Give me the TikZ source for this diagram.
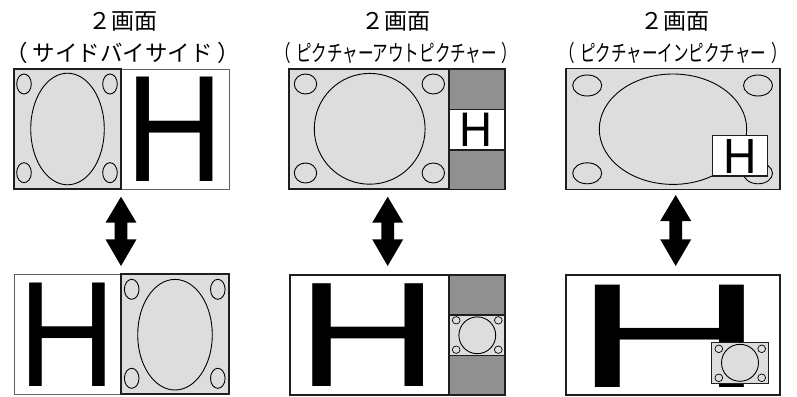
\documentclass[tikz,border=0pt]{standalone}
\usepackage{fontspec}
\usepackage{graphicx}
\newfontfamily\jp{Noto Sans CJK JP}
\newfontfamily\hfont{Liberation Sans}
\definecolor{lg}{HTML}{DDDDDD}
\definecolor{dg}{HTML}{909090}
\definecolor{bd}{HTML}{1E1E1E}
\definecolor{gb}{HTML}{606060}
\newcommand\HG[2]{\resizebox{#1pt}{#2pt}{\hfont H}}
\newcommand\dbar[3]{\fill[black] (#1,#2) -- ({#1+15.5},{#2+26}) -- ({#1+6.3},{#2+26}) -- ({#1+6.3},{#3-26.7}) -- ({#1+15.5},{#3-26.7}) -- (#1,#3) -- ({#1-15.5},{#3-26.7}) -- ({#1-6.3},{#3-26.7}) -- ({#1-6.3},{#2+26}) -- ({#1-15.5},{#2+26}) -- cycle;}
\begin{document}
\begin{tikzpicture}[x=1pt,y=-1pt,
  scr/.style={line width=1.7pt, draw=bd},
  mid/.style={line width=1.2pt, draw=bd},
  gscr/.style={line width=1pt, draw=gb},
  orb/.style={line width=0.9pt, draw=black},
  sorb/.style={line width=0.7pt, draw=black},
  hl/.style={inner sep=0pt, outer sep=0pt},
  ttl/.style={font=\jp\fontsize{23}{26}\selectfont, inner sep=0pt},
  sub/.style={font=\jp\fontsize{22.5}{26}\selectfont, inner sep=0pt}]
\useasboundingbox (0,0) rectangle (797,396);
% ---------- titles
\node[ttl, anchor=base] (t1) at (122.5,29.8) {２画面};
\node[ttl, anchor=base] (t2) at (395.8,29.8) {２画面};
\node[ttl, anchor=base] (t3) at (675,29.8) {２画面};
\node[sub, anchor=base] (s1) at (123,61.5) {（\hspace{5pt}サイドバイサイド\hspace{5pt}）};
\node[sub, anchor=base] (s2) at (396.5,61.5) {\scalebox{0.69}[1]{（\hspace{7pt}ピクチャーアウトピクチャー\hspace{7pt}）}};
\node[sub, anchor=base] (s3) at (673.3,61.5) {\scalebox{0.69}[1]{（\hspace{7pt}ピクチャーインピクチャー\hspace{7pt}）}};
% ---------- panel 1 top
\filldraw[gscr, fill=white] (121,69) rectangle (229,189);
\filldraw[scr, fill=lg] (14,69) rectangle (121,189);
\draw[orb] (67.5,129) ellipse [x radius=36.8pt, y radius=55.8pt];
\foreach \cx/\cy in {24/84,110/84,24/172.7,110/172.7}
  \draw[orb] (\cx,\cy) ellipse [x radius=7.3pt, y radius=10pt];
\node[hl] (h1) at (175,129.5) {\HG{98.5}{104.4}};
% ---------- panel 1 bottom
\filldraw[gscr, fill=white] (14,274.3) rectangle (121,394.3);
\filldraw[scr, fill=lg] (121,274.3) rectangle (228.7,394.3);
\draw[orb] (175,334.7) ellipse [x radius=37.3pt, y radius=55.3pt];
\foreach \cx/\cy in {131.7/289.3,217.8/289.3,131.7/378.3,217.8/378.3}
  \draw[orb] (\cx,\cy) ellipse [x radius=7.3pt, y radius=10pt];
\node[hl] (h1b) at (67.3,335) {\HG{97.7}{103.4}};
% ---------- panel 2 top
\filldraw[scr, fill=lg] (289.3,69) rectangle (449.3,189.3);
\filldraw[mid, fill=dg] (449.3,69) rectangle (505,189.3);
\filldraw[mid, fill=white] (449.3,109.3) rectangle (505,150);
\draw[orb] (369.7,128.8) circle [radius=55.4pt];
\foreach \cx/\cy in {305.5/84,433.3/84,305.5/173,433.3/173}
  \draw[orb] (\cx,\cy) ellipse [x radius=11.2pt, y radius=10pt];
\node[hl] (h2) at (476.2,130) {\HG{33}{33.4}};
% ---------- panel 2 bottom
\filldraw[scr, fill=white] (290,275) rectangle (449.3,395);
\filldraw[mid, fill=dg] (449.3,275) rectangle (505,395);
\filldraw[mid, fill=lg] (449.3,315) rectangle (505,355.7);
\draw[orb] (477.3,335.3) circle [radius=18.4pt];
\foreach \cx/\cy in {456.2/320.3,498.3/320.3,456.2/349.7,498.3/349.7}
  \draw[sorb] (\cx,\cy) ellipse [x radius=3.9pt, y radius=3.7pt];
\node[hl] (h2b) at (368.3,335.3) {\HG{143.1}{102.7}};
% ---------- panel 3 top
\filldraw[mid, fill=lg] (566,68.3) rectangle (780,189.3);
\draw[orb] (673,129.2) ellipse [x radius=73.7pt, y radius=55.2pt];
\foreach \cx/\cy in {587.2/85.5,758/85.5,587.2/173.3,758/173.3}
  \draw[orb] (\cx,\cy) ellipse [x radius=14.5pt, y radius=10.5pt];
\filldraw[mid, fill=white] (712.3,135.7) rectangle (767.3,176);
\node[hl] (h3) at (739.7,156.3) {\HG{33.4}{34}};
% ---------- panel 3 bottom
\filldraw[mid, fill=white] (566,275) rectangle (780,395);
\node[hl] (h3b) at (670.2,336.2) {\HG{192.5}{102.3}};
\filldraw[mid, fill=lg] (711.7,342.3) rectangle (768.3,383.3);
\draw[orb] (740,362.8) circle [radius=18.5pt];
\foreach \cx/\cy in {718.8/348.8,761.7/348.8,718.8/377.8,761.7/377.8}
  \draw[sorb] (\cx,\cy) ellipse [x radius=3.9pt, y radius=3.8pt];
% ---------- arrows
\dbar{121}{196.7}{266}
\dbar{387.7}{196.7}{266}
\dbar{675.7}{195}{266}
\end{tikzpicture}
\end{document}
